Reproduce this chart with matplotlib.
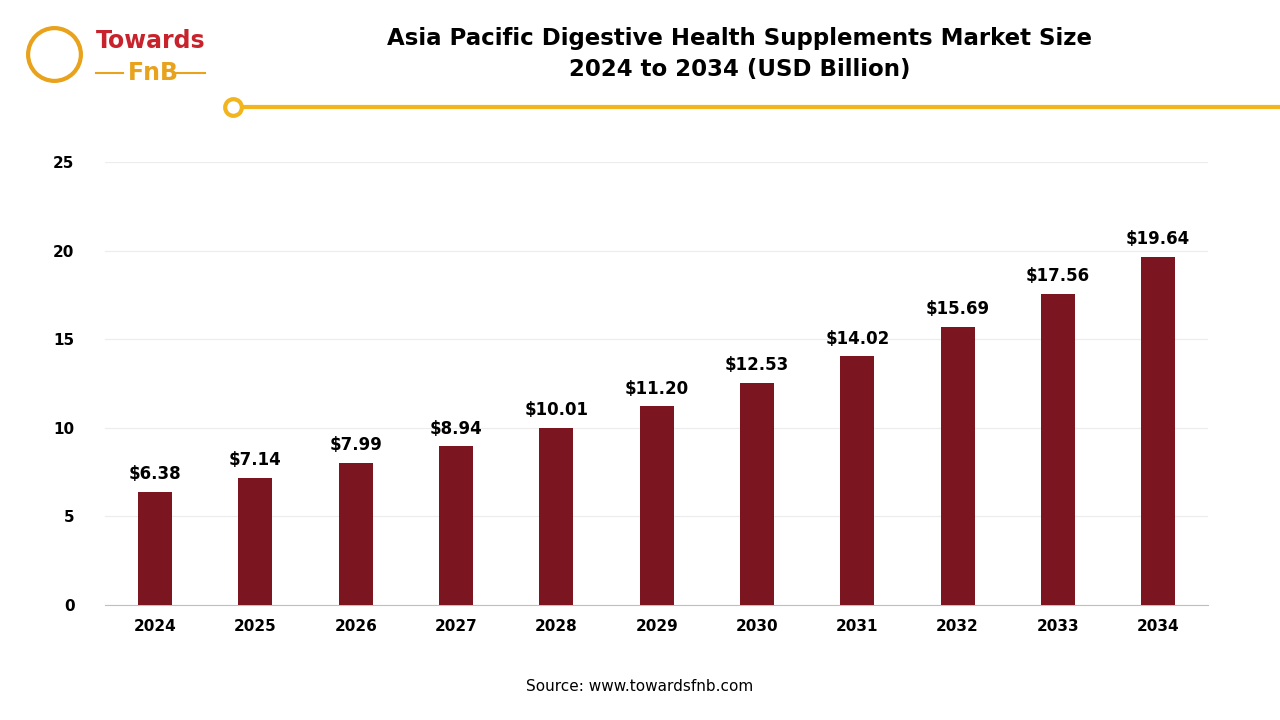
import matplotlib
matplotlib.use("Agg")
import matplotlib.pyplot as plt
from matplotlib.lines import Line2D

years = ["2024","2025","2026","2027","2028","2029","2030","2031","2032","2033","2034"]
values = [6.38,7.14,7.99,8.94,10.01,11.20,12.53,14.02,15.69,17.56,19.64]
yticks = [0,5,10,15,20,25]

fig = plt.figure(figsize=(12.8,7.2), dpi=100)
fig.patch.set_facecolor("white")
ax = fig.add_axes([0.082,0.160,0.862,0.615])
x = range(len(years))
ax.bar(x, values, width=0.34, color="#7B1620", zorder=3)
for i,v in zip(x,values):
    ax.text(i, v+0.5, f"${v:.2f}", ha="center", va="bottom", fontsize=12, fontweight="bold")
ax.set_ylim(0,25)
ax.set_xlim(-0.5,len(years)-0.5)
ax.set_yticks(yticks)
ax.set_xticks(list(x))
ax.set_xticklabels(years, fontsize=11, fontweight="bold")
ax.set_yticklabels([str(t) for t in yticks], fontsize=11, fontweight="bold")
ax.grid(axis="y", color="#ececec", lw=0.8, zorder=0)
for s in ["top","right","left"]:
    ax.spines[s].set_visible(False)
ax.spines["bottom"].set_color("#bfbfbf")
ax.tick_params(length=0, pad=10)
ax.tick_params(axis="y", pad=22)

fig.text(0.578,0.925,"Asia Pacific Digestive Health Supplements Market Size\n2024 to 2034 (USD Billion)",
         ha="center", va="center", fontsize=16.5, fontweight="bold", linespacing=1.45)
fig.text(0.5,0.047,"Source: www.towardsfnb.com", ha="center", va="center", fontsize=11)

# header line
fig.add_artist(Line2D([240/1280,1.0],[1-107/720]*2, color="#F2B51D", lw=3))
fig.add_artist(Line2D([233/1280],[1-107/720], marker="o", markersize=12, markerfacecolor="white",
                      markeredgecolor="#F2B51D", markeredgewidth=3))
# logo
fig.text(0.075,0.943,"Towards", fontsize=17, color="#C8232C", va="center", fontweight="bold")
fig.text(0.1,0.898,"FnB", fontsize=17, color="#E8A21B", va="center", fontweight="bold")
fig.add_artist(Line2D([0.075,0.096],[0.898,0.898], color="#E8A21B", lw=1.5))
fig.add_artist(Line2D([0.137,0.16],[0.898,0.898], color="#E8A21B", lw=1.5))
fig.add_artist(Line2D([0.042],[0.925], marker="o", markersize=38, markerfacecolor="none",
                      markeredgecolor="#E8A21B", markeredgewidth=3))
fig.savefig("out.png", dpi=100)
